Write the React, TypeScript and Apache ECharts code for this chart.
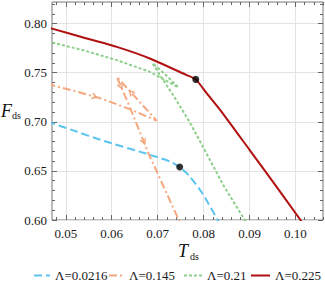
import React, { useEffect, useRef } from "react";
import * as echarts from "echarts";

const SERIES_NAMES = ["Λ=0.0216", "Λ=0.145", "Λ=0.21", "Λ=0.225"];
const COLORS = ["#5bc3ee", "#f5a87f", "#8ecf8b", "#b01010"];

// Λ=0.0216 (blue dashed)
const blueData = [
  [0.046, 0.7002], [0.047, 0.6986], [0.0525, 0.6898], [0.0575, 0.6817],
  [0.0683, 0.6664], [0.0727, 0.6596], [0.0748, 0.654], [0.077, 0.6444],
  [0.0799, 0.626], [0.0831, 0.60], [0.0836, 0.5965],
];
// Λ=0.145 (orange dash-dot, swallowtail)
const orangeData = [
  [0.046, 0.7386], [0.047, 0.7374], [0.0525, 0.7306], [0.0575, 0.724],
  [0.0635, 0.7137], [0.0698, 0.7012],
  [0.0654, 0.7238], [0.0611, 0.7458],
  [0.0633, 0.7222], [0.0658, 0.6935], [0.0683, 0.6647], [0.0714, 0.633],
  [0.0746, 0.60], [0.075, 0.596],
];
// Λ=0.21 (green dotted, swallowtail)
const greenData = [
  [0.046, 0.7818], [0.047, 0.7807], [0.0538, 0.7729], [0.0611, 0.7628],
  [0.0683, 0.7509], [0.0745, 0.7351],
  [0.0716, 0.7485], [0.0689, 0.7596],
  [0.0705, 0.7476], [0.0734, 0.727], [0.077, 0.6995], [0.0801, 0.6725],
  [0.0843, 0.6355], [0.0888, 0.6012], [0.0892, 0.598],
];
// Λ=0.225 (red solid)
const redData = [
  [0.046, 0.7962], [0.047, 0.7949], [0.0538, 0.7858], [0.0611, 0.7763],
  [0.0683, 0.7645], [0.0763, 0.7476], [0.0783, 0.7432], [0.0807, 0.729],
  [0.0836, 0.7122], [0.09, 0.6715], [0.0944, 0.6434], [0.1011, 0.60],
  [0.102, 0.5943],
];
// black critical points
const criticalPoints = [
  [0.0783, 0.7432],
  [0.0748, 0.654],
];
// arrows on the Λ=0.145 curve: [segment index, fraction along the segment]
const orangeArrows = [
  [2, 0.85],
  [6, 0.35],
  [7, 0.5],
  [9, 0.55],
];

const T_TICKS = [0.05, 0.06, 0.07, 0.08, 0.09, 0.1];
const F_TICKS = [0.6, 0.65, 0.7, 0.75, 0.8];
const T_MINOR_STEP = 0.002;
const F_MINOR_STEP = 0.01;
const T_RANGE = [0.047, 0.106];
const F_RANGE = [0.6, 0.822];

const FONT = "Liberation Serif";

function minorValues(range: number[], step: number, majors: number[]) {
  const out: number[] = [];
  const start = Math.ceil(range[0] / step - 1e-9);
  for (let k = start; k * step <= range[1] + 1e-9; k++) {
    const v = +(k * step).toFixed(6);
    if (!majors.some((m) => Math.abs(m - v) < 1e-9)) out.push(v);
  }
  return out;
}

export default function App() {
  const ref = useRef<HTMLDivElement>(null);
  useEffect(() => {
    if (!ref.current) return;
    const chart = echarts.init(ref.current, undefined, { renderer: "svg" });
    const tMinor = minorValues(T_RANGE, T_MINOR_STEP, T_TICKS);
    const fMinor = minorValues(F_RANGE, F_MINOR_STEP, F_TICKS);
    const tickColor = "#666";
    const makeAxis = (
      position: string,
      values: number[],
      len: number,
      labels: boolean,
      split: boolean
    ) => ({
      type: "value",
      position,
      min: position === "bottom" || position === "top" ? T_RANGE[0] : F_RANGE[0],
      max: position === "bottom" || position === "top" ? T_RANGE[1] : F_RANGE[1],
      axisLine: { show: false },
      axisTick: {
        show: true,
        inside: true,
        length: len,
        customValues: values,
        lineStyle: { color: tickColor, width: 1 },
      },
      axisLabel: labels
        ? {
            show: true,
            customValues: values,
            formatter: (v: number) => v.toFixed(2),
            fontFamily: FONT,
            fontSize: 13,
            color: "#1a1a1a",
            margin: position === "left" ? 5 : 7,
          }
        : { show: false },
      splitLine: split
        ? { show: true, customValues: values, lineStyle: { color: "#e4e4e4", width: 1 } }
        : { show: false },
    });

    const lineBase = (
      name: string,
      data: number[][],
      color: string,
      type: any,
      width: number,
      smooth: number | boolean
    ) => ({
      name,
      type: "line",
      data,
      symbol: "none",
      showSymbol: false,
      smooth,
      clip: true,
      lineStyle: { color, width, type },
      itemStyle: { color },
      z: 3,
    });

    const legendLeft = [33, 108, 183, 250];
    const legendW = [16, 15, 18, 19];

    chart.setOption({
      animation: false,
      textStyle: { fontFamily: FONT },
      grid: {
        left: 52,
        right: 2,
        top: 2,
        bottom: 72,
        show: true,
        borderColor: "#777",
        borderWidth: 1,
        backgroundColor: "transparent",
      },
      xAxis: [
        makeAxis("bottom", T_TICKS, 5, true, true),
        makeAxis("bottom", tMinor, 3, false, false),
        makeAxis("top", T_TICKS, 5, false, false),
        makeAxis("top", tMinor, 3, false, false),
      ],
      yAxis: [
        makeAxis("left", F_TICKS, 5, true, true),
        makeAxis("left", fMinor, 3, false, false),
        makeAxis("right", F_TICKS, 5, false, false),
        makeAxis("right", fMinor, 3, false, false),
      ],
      legend: SERIES_NAMES.map((n, i) => ({
        data: [n],
        left: legendLeft[i],
        top: 269,
        padding: 0,
        itemWidth: legendW[i],
        itemHeight: 12,
        itemStyle: { opacity: 0, borderWidth: 0 },
        textStyle: { fontFamily: FONT, fontSize: 13, color: "#1a1a1a" },
      })),
      graphic: [
        {
          type: "text",
          left: 1,
          top: 102,
          style: { text: "F", font: `italic 18px ${FONT}`, fill: "#111" },
        },
        {
          type: "text",
          left: 12,
          top: 110,
          style: { text: "ds", font: `10px ${FONT}`, fill: "#111" },
        },
        {
          type: "text",
          left: 178,
          top: 242,
          style: { text: "T", font: `italic 18px ${FONT}`, fill: "#111" },
        },
        {
          type: "text",
          left: 190,
          top: 251,
          style: { text: "ds", font: `10px ${FONT}`, fill: "#111" },
        },
      ],
      series: [
        lineBase(SERIES_NAMES[0], blueData, COLORS[0], [8, 4], 2, 0.2),
        lineBase(SERIES_NAMES[1], orangeData, COLORS[1], [8, 3, 2, 3], 2, false),
        lineBase(SERIES_NAMES[2], greenData, COLORS[2], [3, 2], 2, false),
        lineBase(SERIES_NAMES[3], redData, COLORS[3], "solid", 2, 0.2),
        {
          name: "arrows",
          type: "custom",
          coordinateSystem: "cartesian2d",
          data: orangeArrows.map((a) => [orangeData[a[0]][0], orangeData[a[0]][1], a[0], a[1]]),
          encode: { x: 0, y: 1 },
          z: 4,
          renderItem: (params: any, api: any) => {
            const seg = api.value(2);
            const t = api.value(3);
            const a = api.coord(orangeData[seg]);
            const b = api.coord(orangeData[seg + 1]);
            let dx = b[0] - a[0];
            let dy = b[1] - a[1];
            const L = Math.hypot(dx, dy) || 1;
            dx /= L;
            dy /= L;
            const px = a[0] + (b[0] - a[0]) * t;
            const py = a[1] + (b[1] - a[1]) * t;
            const len = 5;
            const w = 2.8;
            const bx = px - dx * len;
            const by = py - dy * len;
            return {
              type: "polyline",
              shape: {
                points: [
                  [bx - dy * w, by + dx * w],
                  [px, py],
                  [bx + dy * w, by - dx * w],
                ],
              },
              style: { stroke: COLORS[1], lineWidth: 1.5, fill: null },
            };
          },
        },
        {
          name: "critical",
          type: "scatter",
          data: criticalPoints,
          symbol: "circle",
          symbolSize: 7,
          itemStyle: { color: "#000" },
          z: 5,
        },
      ],
    });
    return () => chart.dispose();
  }, []);
  return (
    <div
      ref={ref}
      style={{ position: "absolute", left: 0, top: 0, width: 325, height: 292 }}
    />
  );
}
